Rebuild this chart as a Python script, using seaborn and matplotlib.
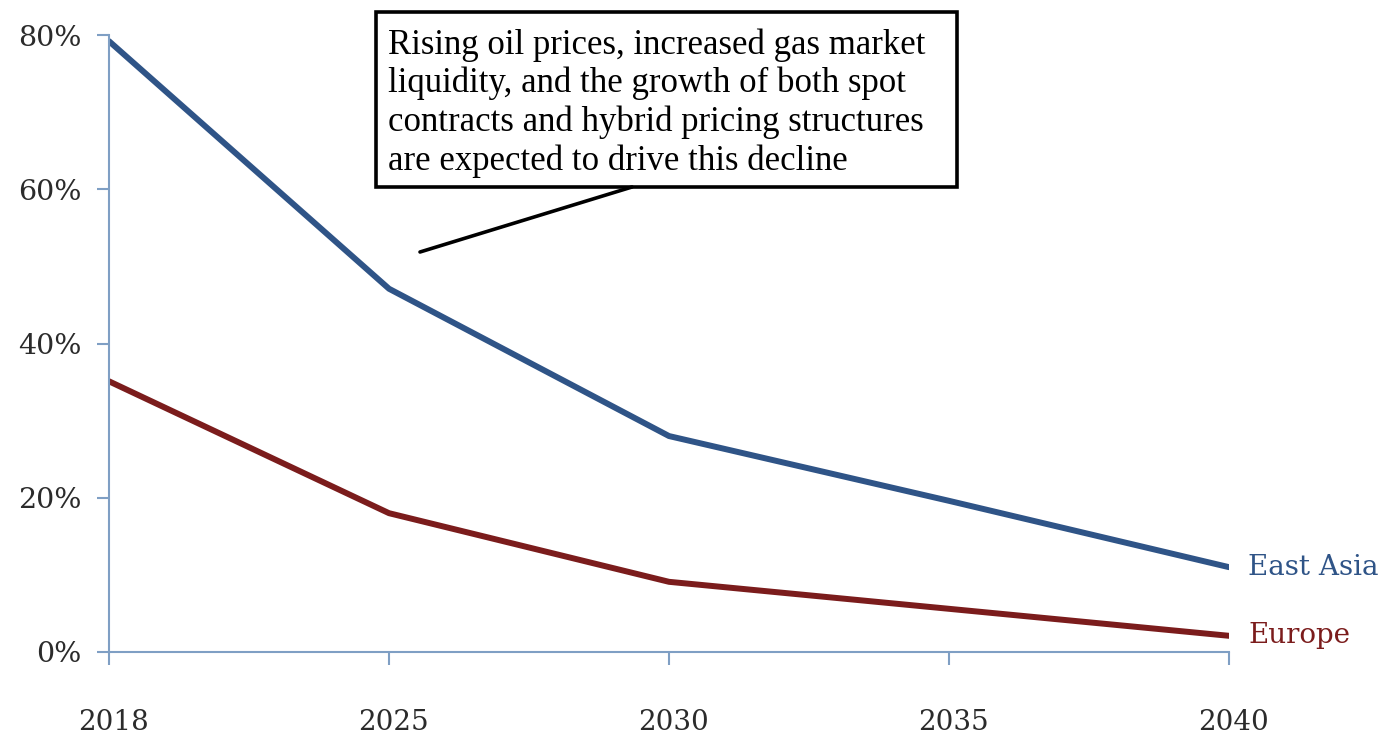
import matplotlib
matplotlib.use("Agg")
import matplotlib.pyplot as plt
import matplotlib.patches as mpatches
import matplotlib.transforms as mtransforms
import seaborn as sns
import pandas as pd
from matplotlib.ticker import FuncFormatter

years = ["2018", "2025", "2030", "2035", "2040"]
east_asia = [79.2, 47.1, 28.0, 19.6, 11.0]
europe = [35.1, 18.0, 9.1, 5.6, 2.1]
series_names = ["East Asia", "Europe"]
colors = {"East Asia": "#2f5487", "Europe": "#7b1c1c"}
y_ticks = [0, 20, 40, 60, 80]
note = ("Rising oil prices, increased gas market\n"
        "liquidity, and the growth of both spot\n"
        "contracts and hybrid pricing structures\n"
        "are expected to drive this decline")

df = pd.DataFrame({
    "year": years * 2,
    "value": east_asia + europe,
    "series": [series_names[0]] * len(years) + [series_names[1]] * len(years),
})

sns.set_style("white")
plt.rcParams["font.family"] = ["DejaVu Serif"]

W, H = 1384, 737
fig = plt.figure(figsize=(W / 100, H / 100), dpi=100)
ax = fig.add_axes([109 / W, 1 - 652 / H, (1229 - 109) / W, (652 - 35) / H])

sns.lineplot(data=df, x="year", y="value", hue="series", palette=colors,
             linewidth=4.3, ax=ax, legend=False, sort=False)
for line in ax.lines:
    line.set_solid_capstyle("round")
    line.set_solid_joinstyle("round")

ax.set_xlim(0, len(years) - 1)
ax.set_ylim(0, 80)
ax.set_yticks(y_ticks)
ax.yaxis.set_major_formatter(FuncFormatter(lambda v, p: f"{v:.0f}%"))
ax.set_xlabel("")
ax.set_ylabel("")

axis_color = "#7f9fc4"
for s in ["top", "right"]:
    ax.spines[s].set_visible(False)
for s in ["left", "bottom"]:
    ax.spines[s].set_color(axis_color)
    ax.spines[s].set_linewidth(1.5)
ax.tick_params(axis="both", colors=axis_color, length=9, width=1.5,
               labelcolor="#2b2b2b")
ax.tick_params(axis="x", pad=32, direction="out", bottom=True, labelsize=20)
ax.tick_params(axis="y", pad=11, direction="out", left=True, labelsize=20.5)

# slight rightward shift of x labels as in the reference
offset = mtransforms.ScaledTranslation(4 / 100, 0, fig.dpi_scale_trans)
for lbl in ax.get_xticklabels():
    lbl.set_transform(lbl.get_transform() + offset)

# end labels
ax.annotate(series_names[0], xy=(len(years) - 1, east_asia[-1]), xytext=(14, 0),
            textcoords="offset points", va="center", ha="left", fontsize=20,
            color=colors["East Asia"], annotation_clip=False)
ax.annotate(series_names[1], xy=(len(years) - 1, europe[-1]), xytext=(14, 0),
            textcoords="offset points", va="center", ha="left", fontsize=20,
            color=colors["Europe"], annotation_clip=False)

# callout box
fig.add_artist(mpatches.Rectangle((376 / W, 1 - 187 / H), (957 - 376) / W, (187 - 12) / H,
                                  transform=fig.transFigure, fc="white", ec="black", lw=2.6))
fig.text(388 / W, 1 - 103 / H, note, fontsize=25, family="Liberation Serif",
         ha="left", va="center", linespacing=1.2, color="black")
fig.add_artist(plt.Line2D([420 / W, 632 / W], [1 - 252 / H, 1 - 187 / H],
                          color="black", lw=2.6, transform=fig.transFigure))

fig.savefig("out.png", dpi=100)
